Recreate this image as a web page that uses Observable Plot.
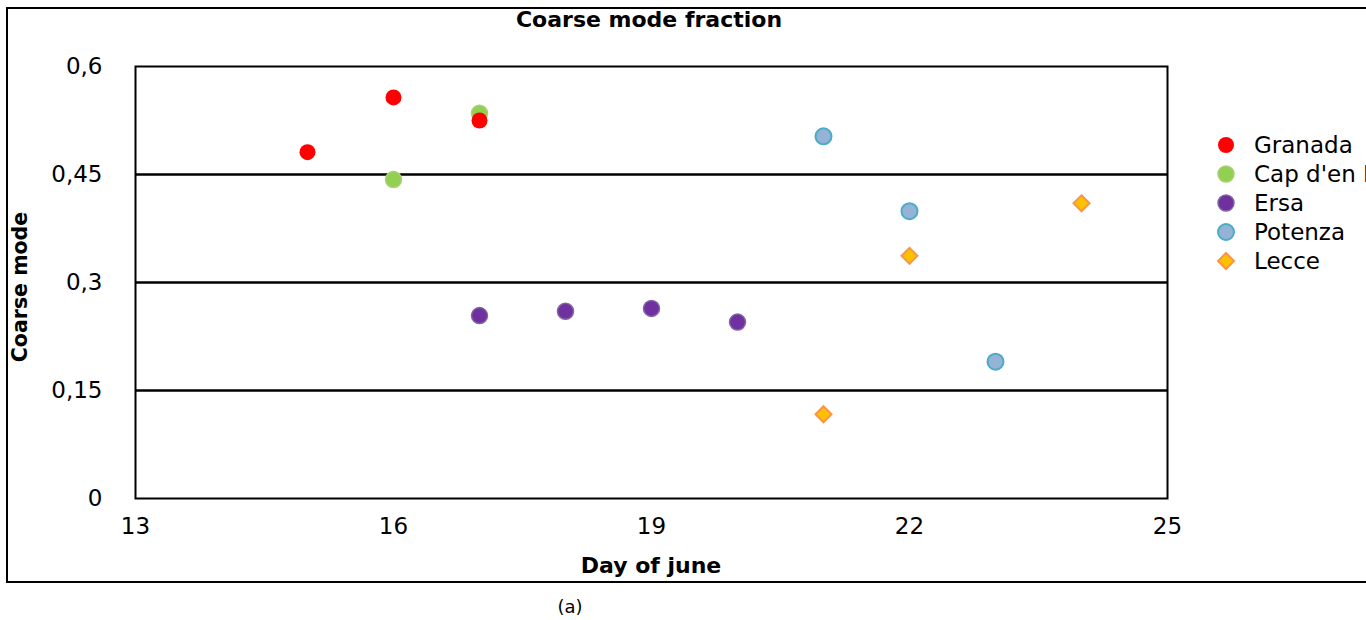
<!DOCTYPE html>
<html><head><meta charset="utf-8">
<script src="https://cdn.jsdelivr.net/npm/d3@7"></script>
<script src="https://cdn.jsdelivr.net/npm/@observablehq/plot@0.6"></script>
<style>
body{margin:0;overflow:hidden;background:#fff;font-family:"DejaVu Sans",sans-serif;}
#wrap{position:relative;width:1366px;height:620px;overflow:hidden;background:#fff;}
#chart{position:absolute;left:0;top:0;}
#border{position:absolute;left:6px;top:7px;width:1420px;height:576px;border:2px solid #000;box-sizing:border-box;pointer-events:none;}
.t{position:absolute;white-space:nowrap;color:#000;}
#title{left:649px;transform:translateX(-50%);top:7px;font-weight:bold;font-size:22px;}
#xlab{left:651px;transform:translateX(-50%);top:553px;font-weight:bold;font-size:22px;}
#ylab{left:20px;top:287px;transform:translate(-50%,-50%) rotate(-90deg);font-weight:bold;font-size:20.5px;}
#cap{left:570px;transform:translateX(-50%);top:596px;font-size:18px;}
.leg{position:absolute;left:1214px;height:24px;display:flex;align-items:center;font-size:23px;white-space:nowrap;}
.leg svg{margin-right:16px;}
</style></head>
<body>
<div id="wrap">
  <div id="chart"></div>
  <div id="border"></div>
  <div class="t" id="title">Coarse mode fraction</div>
  <div class="t" id="xlab">Day of june</div>
  <div class="t" id="ylab">Coarse mode</div>
  <div class="t" id="cap">(a)</div>
  <div id="legend"></div>
</div>
<script>
const seriesNames = ["Granada", "Cap d'en Font", "Ersa", "Potenza", "Lecce"];
const granadaDays = [15, 16, 17];
const granadaValues = [0.481, 0.557, 0.525];
const capDays = [16, 17];
const capValues = [0.443, 0.535];
const ersaDays = [17, 18, 19, 20];
const ersaValues = [0.254, 0.260, 0.264, 0.245];
const potenzaDays = [21, 22, 23];
const potenzaValues = [0.503, 0.399, 0.190];
const lecceDays = [21, 22, 24];
const lecceValues = [0.117, 0.337, 0.410];
const xTicks = [13, 16, 19, 22, 25];
const yTicks = [0, 0.15, 0.3, 0.45, 0.6];

const styles = {
  "Granada": {fill: "#ff0000", stroke: "none", symbol: "circle", r: 8, sw: 0},
  "Cap d'en Font": {fill: "#92d050", stroke: "#a9cf75", symbol: "circle", r: 8, sw: 1.5},
  "Ersa": {fill: "#7030a0", stroke: "#8064a2", symbol: "circle", r: 8, sw: 1.5},
  "Potenza": {fill: "#95b3d7", stroke: "#4bacc6", symbol: "circle", r: 8, sw: 2},
  "Lecce": {fill: "#ffc000", stroke: "#f79646", symbol: "diamond2", r: 7.2, sw: 2}
};

const seriesData = {
  "Granada": granadaDays.map((d, i) => ({day: d, value: granadaValues[i]})),
  "Cap d'en Font": capDays.map((d, i) => ({day: d, value: capValues[i]})),
  "Ersa": ersaDays.map((d, i) => ({day: d, value: ersaValues[i]})),
  "Potenza": potenzaDays.map((d, i) => ({day: d, value: potenzaValues[i]})),
  "Lecce": lecceDays.map((d, i) => ({day: d, value: lecceValues[i]}))
};

const drawOrder = ["Cap d'en Font", "Granada", "Ersa", "Potenza", "Lecce"];
const fmt = d => String(d).replace(".", ",");

const plot = Plot.plot({
  width: 1366,
  height: 600,
  marginTop: 66,
  marginBottom: 102,
  marginLeft: 135,
  marginRight: 199,
  style: {background: "transparent", fontFamily: "DejaVu Sans, sans-serif", fontSize: "23px", color: "#000"},
  x: {domain: [13, 25]},
  y: {domain: [0, 0.6]},
  marks: [
    Plot.ruleY([0.15, 0.3, 0.45], {stroke: "#000", strokeWidth: 2.5}),
    Plot.frame({stroke: "#000", strokeWidth: 2}),
    Plot.axisX({ticks: xTicks, tickSize: 0, tickPadding: 19, tickFormat: d => d, fontSize: 23, label: null}),
    Plot.axisY({ticks: yTicks, tickSize: 0, tickPadding: 33, tickFormat: fmt, fontSize: 23, label: null}),
    ...drawOrder.map(name => {
      const s = styles[name];
      return Plot.dot(seriesData[name], {x: "day", y: "value", r: s.r, symbol: s.symbol, fill: s.fill, stroke: s.stroke, strokeWidth: s.sw});
    })
  ]
});
document.getElementById("chart").appendChild(plot);

const legend = document.getElementById("legend");
const rowY = [145, 174, 203, 232, 261];
seriesNames.forEach((name, i) => {
  const s = styles[name];
  const row = document.createElement("div");
  row.className = "leg";
  row.style.top = (rowY[i] - 12) + "px";
  const svg = d3.create("svg").attr("width", 24).attr("height", 24);
  const sym = s.symbol === "diamond2" ? d3.symbolDiamond2 : d3.symbolCircle;
  svg.append("path")
    .attr("transform", "translate(12,12)")
    .attr("d", d3.symbol(sym, Math.PI * s.r * s.r)())
    .attr("fill", s.fill)
    .attr("stroke", s.stroke)
    .attr("stroke-width", s.sw);
  row.appendChild(svg.node());
  const span = document.createElement("span");
  span.textContent = name;
  row.appendChild(span);
  legend.appendChild(row);
});
</script>
</body></html>
